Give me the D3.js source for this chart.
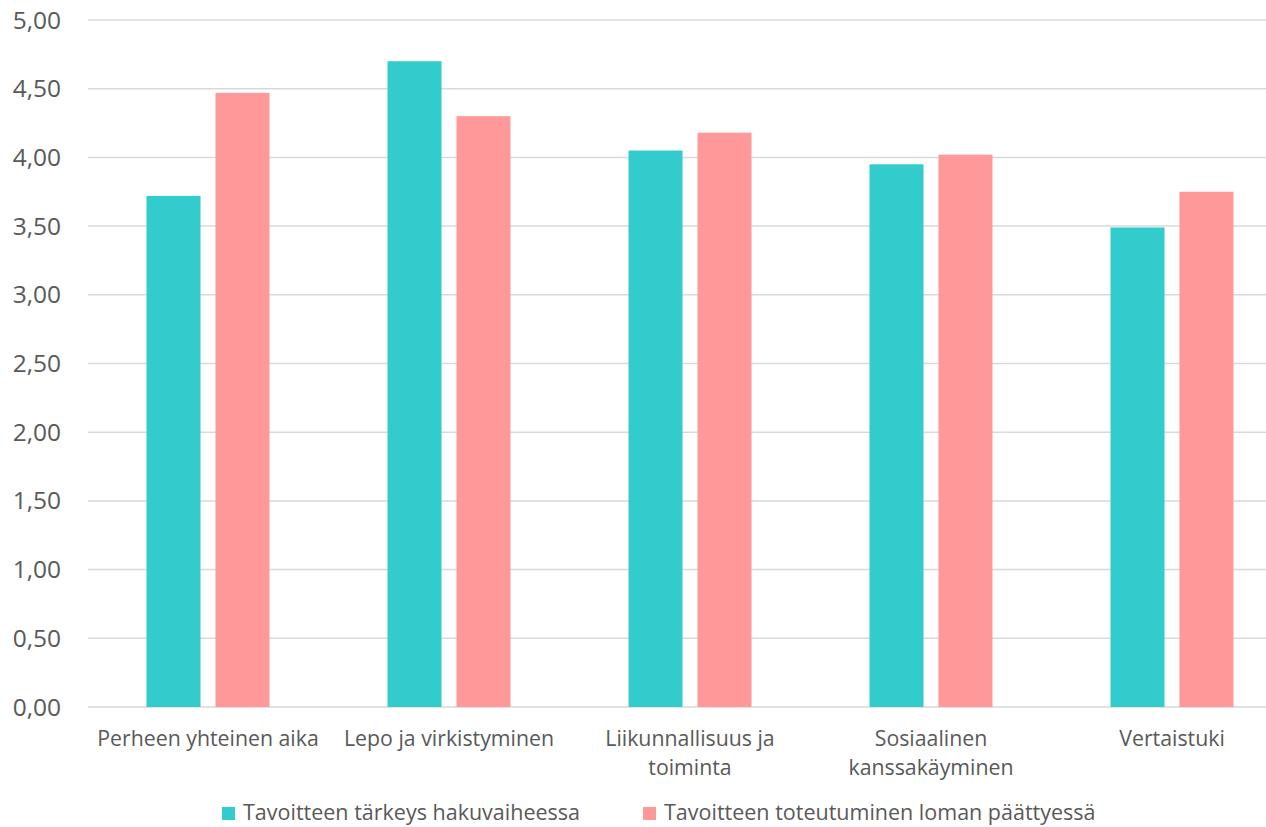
<!DOCTYPE html>
<html lang="fi">
<head>
<meta charset="UTF-8">
<script src="https://cdn.jsdelivr.net/npm/d3@7"></script>
<style>
  body { margin: 0; background: #fff; }
  text { font-family: "Open Sans", Lato, sans-serif; fill: #595959; }
</style>
</head>
<body>
<div id="chart"></div>
<script>
// data
const categories = [
  ["Perheen yhteinen aika"],
  ["Lepo ja virkistyminen"],
  ["Liikunnallisuus ja", "toiminta"],
  ["Sosiaalinen", "kanssakäyminen"],
  ["Vertaistuki"]
];
const seriesNames = ["Tavoitteen tärkeys hakuvaiheessa", "Tavoitteen toteutuminen loman päättyessä"];
const importance = [3.72, 4.70, 4.05, 3.95, 3.49];
const realization = [4.47, 4.30, 4.18, 4.02, 3.75];
const yTicks = [0, 0.5, 1, 1.5, 2, 2.5, 3, 3.5, 4, 4.5, 5];
const colors = ["#33CCCC", "#FF9999"];

const W = 1266, H = 827;
const svg = d3.select('#chart').append('svg').attr('width', W).attr('height', H);

const catKeys = categories.map(c => c.join(' '));
const x = d3.scaleBand().domain(catKeys).range([88, 1293]).paddingInner(0).paddingOuter(0);
const y = d3.scaleLinear().domain([0, 5]).range([707, 20]);
const inner = d3.scaleBand().domain([0, 1]).range([58.5, 181.5]).paddingInner(0.217);

// gridlines
svg.append('g').selectAll('line')
  .data(yTicks).enter().append('line')
  .attr('x1', 88).attr('x2', W)
  .attr('y1', d => y(d)).attr('y2', d => y(d))
  .attr('stroke', '#D9D9D9').attr('stroke-width', 1.5);

// y tick labels
svg.append('g').selectAll('text')
  .data(yTicks).enter().append('text')
  .attr('x', 61).attr('y', d => y(d) + 8.5)
  .attr('text-anchor', 'end')
  .style('font-size', '24.5px')
  .text(d => d3.format('.2f')(d).replace('.', ','));

// bars
const rows = catKeys.map((k, i) => ({ key: k, vals: [importance[i], realization[i]] }));
const groups = svg.append('g').selectAll('g')
  .data(rows).enter().append('g')
  .attr('transform', d => 'translate(' + x(d.key) + ',0)');
groups.selectAll('rect')
  .data(d => d.vals.map((v, s) => ({ v, s })))
  .enter().append('rect')
  .attr('x', d => inner(d.s))
  .attr('width', inner.bandwidth())
  .attr('y', d => y(d.v))
  .attr('height', d => y(0) - y(d.v))
  .attr('fill', d => colors[d.s]);

// category labels
const lab = svg.append('g').selectAll('text')
  .data(categories).enter().append('text')
  .attr('x', (d, i) => x(catKeys[i]) + 120)
  .attr('y', 746)
  .attr('text-anchor', 'middle')
  .style('font-size', '21.3px');
lab.selectAll('tspan')
  .data(d => d).enter().append('tspan')
  .attr('x', function () { return d3.select(this.parentNode).attr('x'); })
  .attr('dy', (d, i) => i === 0 ? 0 : 29)
  .text(d => d);

// legend
const legX = [222, 643];
const leg = svg.append('g').selectAll('g')
  .data(seriesNames).enter().append('g')
  .attr('transform', (d, i) => 'translate(' + legX[i] + ',807)');
leg.append('rect').attr('x', 0).attr('y', 0).attr('width', 13).attr('height', 13)
  .attr('fill', (d, i) => colors[i]);
leg.append('text').attr('x', 21).attr('y', 13).style('font-size', '21.5px').text(d => d);
</script>
</body>
</html>
